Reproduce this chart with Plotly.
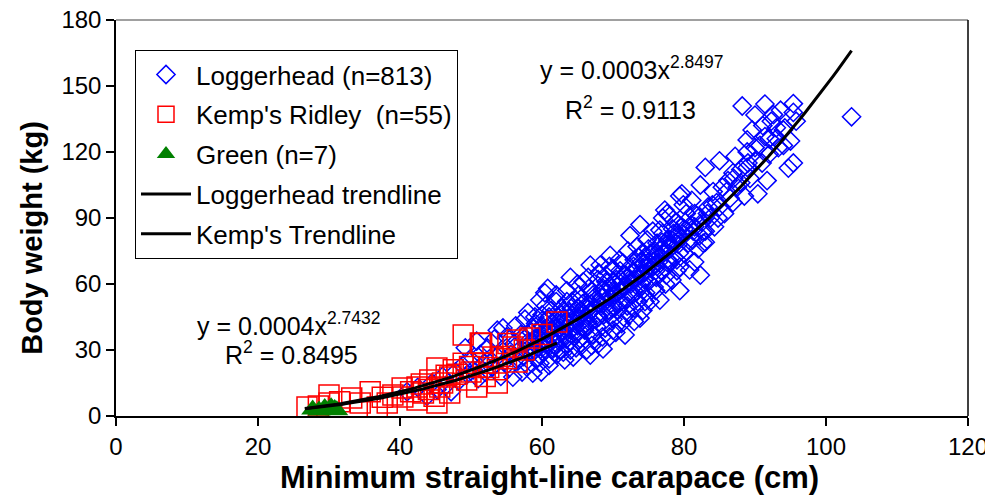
import numpy as np
import plotly.graph_objects as go

# ---------------- data ----------------
loggerhead_points = [
    (41.0, 11), (42.5, 13), (43.8, 9), (44.5, 15), (45.2, 12), (46.0, 18), (46.5, 14), (47.2, 11),
    (47.8, 20), (48.3, 16), (48.8, 23), (49.2, 31), (49.5, 19), (49.9, 26),
    (50.3, 21), (50.8, 34), (51.0, 17), (51.3, 28), (51.8, 24), (52.0, 20), (52.3, 31), (52.6, 26),
    (53.0, 22), (53.3, 35), (53.7, 39), (54.0, 28), (54.2, 18), (54.5, 40), (54.8, 25), (55.0, 31), (55.0, 36),
    (55.4, 22), (55.6, 28), (55.9, 17.7), (56.1, 33), (56.3, 41), (56.6, 25), (56.8, 30), (57.0, 37),
    (57.2, 20), (57.4, 27), (57.6, 44), (57.8, 33), (58.0, 47), (58.0, 23), (58.3, 29), (58.5, 38),
    (58.7, 19.5), (58.9, 35), (59.1, 42), (59.3, 26), (59.5, 31), (59.7, 52.7), (59.7, 24), (59.9, 20),
    (60.0, 37), (60.0, 46),
    (60.1, 43.6), (60.2, 29), (60.4, 56), (60.5, 33), (60.7, 40), (60.8, 58), (61.0, 26), (61.1, 36),
    (61.3, 48), (61.5, 31), (61.6, 42), (61.8, 38), (62.0, 52), (62.1, 28), (62.3, 45), (62.4, 34),
    (62.6, 40), (62.8, 49), (63.0, 29), (63.0, 37), (63.2, 25.5), (63.3, 43), (63.5, 57), (63.6, 33),
    (63.8, 47), (64.0, 39), (64.0, 63), (64.2, 52), (64.4, 26.8), (64.5, 36), (64.6, 44), (64.8, 31),
    (65.0, 49), (65.0, 41),
    (65.2, 55), (65.4, 35), (65.6, 46), (65.8, 61), (66.0, 39), (66.1, 52), (66.3, 30), (66.5, 43),
    (66.6, 58), (66.8, 27.7), (66.8, 68.6), (67.0, 48), (67.1, 37), (67.2, 36.8), (67.4, 54), (67.6, 44),
    (67.7, 40.5), (67.9, 62), (68.0, 33), (68.2, 68.6), (68.3, 50), (68.5, 57), (68.6, 30.5), (68.7, 46),
    (68.9, 40), (69.0, 64), (69.2, 53), (69.3, 46.8), (69.5, 36), (69.6, 73), (69.7, 59), (69.9, 49),
    (70.0, 44), (70.0, 67),
    (70.2, 55), (70.4, 38), (70.5, 62), (70.7, 48), (70.9, 71), (71.0, 52), (71.2, 42), (71.4, 69.5),
    (71.5, 58), (71.7, 36.8), (71.8, 64), (72.0, 50), (72.1, 75), (72.3, 46), (72.4, 82), (72.5, 60),
    (72.7, 55), (72.9, 68), (73.0, 43), (73.2, 63), (73.4, 77), (73.5, 52), (73.7, 58), (73.8, 44.5),
    (73.8, 87), (74.0, 70), (74.1, 74), (74.2, 48), (74.4, 65), (74.6, 56), (74.8, 80), (75.0, 61), (75.0, 72),
    (75.2, 52), (75.4, 67), (75.6, 84), (75.8, 58.6), (75.9, 75), (76.1, 63), (76.2, 78.6), (76.4, 70),
    (76.6, 52.7), (76.6, 84.5), (76.8, 66), (77.0, 90), (77.1, 74), (77.3, 93.6), (77.4, 60), (77.6, 92),
    (77.7, 80), (77.9, 69), (78.0, 76), (78.0, 91), (78.3, 61.8), (78.4, 85), (78.6, 72), (78.8, 88),
    (79.0, 83), (79.0, 66), (79.2, 78), (79.4, 57), (79.4, 67.7), (79.4, 100), (79.7, 86), (79.7, 101),
    (79.9, 96), (80.0, 74),
    (80.3, 92), (80.6, 78.6), (80.8, 66.4), (81.1, 98), (81.3, 84), (81.5, 70), (81.5, 92), (81.8, 91),
    (82.0, 76), (82.3, 105), (82.3, 64), (82.5, 88), (82.7, 84), (82.7, 78.6), (83.0, 113), (83.0, 79),
    (83.0, 84), (83.4, 95), (83.7, 90), (84.1, 102), (84.3, 86), (84.6, 97), (85.0, 95), (85.0, 116),
    (85.4, 104), (85.7, 92), (86.2, 107), (86.5, 99), (86.9, 110.5), (86.9, 97), (87.2, 118), (87.5, 104),
    (88.0, 112), (88.2, 140.9), (88.5, 100), (88.9, 113), (88.9, 120), (88.9, 125.5), (89.3, 108),
    (89.6, 130), (90.0, 136.8), (90.0, 116),
    (90.4, 101), (90.7, 123), (91.1, 132), (91.4, 127), (91.4, 141.8), (91.7, 107), (92.0, 119),
    (92.3, 134), (92.6, 137), (93.0, 126), (93.3, 122), (93.6, 139), (94.0, 130), (94.2, 131),
    (94.7, 112.7), (95.0, 125), (95.4, 115), (95.4, 138), (95.4, 142), (95.8, 134),
    (103.6, 136),
    # dense core
    (58.2, 31), (58.6, 34), (59.0, 30), (59.4, 36), (59.8, 33), (60.3, 35), (60.6, 38), (60.9, 33),
    (61.2, 39), (61.6, 35), (61.9, 41), (62.2, 37), (62.5, 42), (62.9, 38), (63.2, 44), (63.5, 40),
    (63.9, 42), (64.3, 46), (64.7, 42), (65.1, 45), (65.5, 48), (65.9, 44), (66.2, 49), (66.6, 47),
    (66.9, 51), (67.3, 49), (67.7, 53), (68.1, 51), (68.4, 54), (68.8, 52), (69.1, 56), (69.5, 54),
    (69.8, 58), (70.3, 56), (70.6, 59), (71.0, 57), (71.3, 61), (71.6, 59), (72.0, 63), (72.4, 61),
    (72.8, 65), (73.1, 62), (73.5, 67), (73.9, 64), (74.3, 69), (74.7, 67), (75.1, 70), (75.5, 68),
    (75.9, 73), (76.3, 72), (76.7, 76), (77.1, 74), (77.5, 78), (77.9, 77), (78.3, 80), (78.7, 79),
    (79.1, 82), (79.6, 81), (80.0, 85), (80.5, 84), (81.0, 87), (81.5, 86), (82.0, 90),
    (60.0, 41), (61.0, 45), (62.0, 33), (63.0, 48), (64.0, 34), (65.0, 52), (66.0, 40), (67.0, 57),
    (68.0, 45), (69.0, 61), (70.0, 50), (71.0, 66), (72.0, 53), (73.0, 71), (74.0, 60), (75.0, 76),
    (76.0, 66), (77.0, 83), (78.0, 70),
    (57.5, 35), (58.8, 40), (59.6, 28), (60.8, 44), (61.4, 30), (62.7, 46), (63.4, 35), (64.1, 49),
    (64.9, 38), (65.7, 51), (66.4, 41), (67.2, 55), (67.8, 46), (68.6, 58), (69.4, 48), (70.1, 61),
    (70.8, 51), (71.5, 64), (72.2, 56), (72.9, 57), (73.6, 72), (74.4, 62), (75.3, 74), (76.0, 69),
    (76.9, 79), (77.6, 71), (78.5, 83), (79.3, 74), (80.2, 88), (81.2, 80), (82.2, 82), (83.3, 92),
    (84.0, 96), (84.8, 90), (86.0, 102), (87.0, 108), (88.0, 106), (89.0, 115), (90.0, 122), (91.0, 115),
    (92.0, 126), (93.0, 131), (94.0, 123), (59.0, 45), (60.5, 50), (62.0, 55), (63.5, 52), (65.0, 60),
    (66.5, 63), (68.0, 65), (69.5, 68), (61.0, 23), (62.5, 30), (64.0, 30), (65.5, 33), (67.0, 32),
    (68.5, 36), (70.0, 39), (71.5, 45), (73.0, 49), (74.5, 52), (76.0, 57), (77.5, 64), (79.0, 71),
]

kemps_points = [
    (26.9, 4.1), (30.0, 9.5), (30.0, 5.9), (33.2, 8.2), (35.8, 11), (34.4, 5.9), (38.2, 5.9), (36.8, 4.1),
    (40.3, 12.7), (40.4, 8.6), (42.4, 13.2), (42.4, 7.3), (43.3, 10.5), (45.2, 5.9), (44.2, 16.4),
    (45.2, 21.8), (45.6, 13.2), (47.0, 17.7), (47.0, 10.5), (48.9, 36.8), (48.9, 24), (49.4, 16.4),
    (51.3, 33.2), (51.7, 24), (50.8, 13.2), (53.1, 26.8), (53.7, 21), (53.7, 15), (55.9, 31.4),
    (56.5, 24.5), (58.3, 35.5), (56.5, 34.5), (47.5, 21), (62.1, 42.7), (55.2, 33), (51.5, 33),
    (41.5, 11), (44.0, 12), (46.0, 15), (48.0, 19), (50.0, 20), (52.5, 22), (54.5, 27), (57.5, 30),
    (39.0, 9.5), (43.0, 14.5), (46.5, 18.5), (49.8, 22.5), (52.0, 18), (55.0, 26), (31.5, 6.5),
    (37.5, 8.5), (44.8, 9.0), (60.0, 37), (28.5, 4.5),
]

green_points = [(27.7, 3.0), (28.6, 2.5), (29.4, 3.6), (30.0, 2.8), (30.3, 4.0), (30.8, 3.2), (31.1, 2.6)]

# trendline equations printed on the chart: y = a * x^b
loggerhead_fit = {"a": 0.0003, "b": 2.8497, "r2": 0.9113, "x_from": 26.6, "x_to": 103.6}
kemps_fit = {"a": 0.0004, "b": 2.7432, "r2": 0.8495, "x_from": 26.6, "x_to": 62.1}

x_ticks = [0, 20, 40, 60, 80, 100, 120]
y_ticks = [0, 30, 60, 90, 120, 150, 180]
x_title = "Minimum straight-line carapace (cm)"
y_title = "Body weight (kg)"

# ---------------- figure ----------------
FONT = "Liberation Sans, Arial, sans-serif"


def split(points):
    return [p[0] for p in points], [p[1] for p in points]


def curve(fit):
    xs = np.linspace(fit["x_from"], fit["x_to"], 120)
    return xs, fit["a"] * xs ** fit["b"]


lx, ly = split(loggerhead_points)
kx, ky = split(kemps_points)
gx, gy = split(green_points)
ltx, lty = curve(loggerhead_fit)
ktx, kty = curve(kemps_fit)

fig = go.Figure()
fig.add_trace(go.Scatter(
    x=lx, y=ly, mode="markers", name="Loggerhead (n=813)", legendgroup="a",
    marker=dict(symbol="diamond-open", size=14, color="#0000FF", line=dict(width=1.5, color="#0000FF")),
    cliponaxis=False))
fig.add_trace(go.Scatter(
    x=kx, y=ky, mode="markers", name="Kemp's Ridley&nbsp;&nbsp;(n=55)", legendgroup="b",
    marker=dict(symbol="square-open", size=20, color="#FF0000", line=dict(width=1.5, color="#FF0000")),
    cliponaxis=False))
fig.add_trace(go.Scatter(
    x=gx, y=gy, mode="markers", name="Green (n=7)", legendgroup="c",
    marker=dict(symbol="triangle-up", size=20, color="#008000", line=dict(width=0)),
    cliponaxis=False))
fig.add_trace(go.Scatter(
    x=ltx, y=lty, mode="lines", name="Loggerhead trendline", legendgroup="d",
    line=dict(color="black", width=3), cliponaxis=False))
fig.add_trace(go.Scatter(
    x=ktx, y=kty, mode="lines", name="Kemp's Trendline", legendgroup="e",
    line=dict(color="black", width=3), cliponaxis=False))

ann_font = dict(family=FONT, size=25, color="black")
fig.add_annotation(x=59.4, y=158, xref="x", yref="y", xanchor="left", yanchor="middle", showarrow=False,
                   text="y = %.4fx<sup>%.4f</sup>" % (loggerhead_fit["a"], loggerhead_fit["b"]), font=ann_font)
fig.add_annotation(x=63.0, y=140, xref="x", yref="y", xanchor="left", yanchor="middle", showarrow=False,
                   text="R<sup>2</sup> = %.4f" % loggerhead_fit["r2"], font=ann_font)
fig.add_annotation(x=11.1, y=42, xref="x", yref="y", xanchor="left", yanchor="middle", showarrow=False,
                   text="y = %.4fx<sup>%.4f</sup>" % (kemps_fit["a"], kemps_fit["b"]), font=ann_font)
fig.add_annotation(x=15.1, y=28.5, xref="x", yref="y", xanchor="left", yanchor="middle", showarrow=False,
                   text="R<sup>2</sup> = %.4f" % kemps_fit["r2"], font=ann_font)

# axis titles (placed as in the reference)
fig.add_annotation(x=0.5083, y=-0.155, xref="paper", yref="paper", xanchor="center", yanchor="middle",
                   showarrow=False, text="<b>%s</b>" % x_title,
                   font=dict(family=FONT, size=31, color="black"))
fig.add_annotation(x=-0.0986, y=0.45, xref="paper", yref="paper", xanchor="center", yanchor="middle",
                   showarrow=False, textangle=-90, text="<b>%s</b>" % y_title,
                   font=dict(family=FONT, size=29, color="black"))

# plot-area frame: grey top, black right
fig.add_shape(type="line", xref="paper", yref="paper", x0=0, x1=1, y0=1, y1=1,
              line=dict(color="#808080", width=1.5))
fig.add_shape(type="line", xref="paper", yref="paper", x0=1, x1=1, y0=0, y1=1,
              line=dict(color="black", width=1.5))

axis_common = dict(showgrid=False, zeroline=False, showline=True, linecolor="black", linewidth=1.5,
                   ticks="outside", ticklen=8, tickcolor="black", tickwidth=1.5,
                   ticklabeloverflow="allow",
                   tickfont=dict(family=FONT, size=24, color="black"))
fig.update_xaxes(range=[0, 120], tickvals=x_ticks, ticktext=[str(v) for v in x_ticks], **axis_common)
fig.update_yaxes(range=[0, 180], tickvals=y_ticks, ticktext=[str(v) for v in y_ticks], **axis_common)

# page body has an 8px margin, so the figure is 8px smaller and shifted
fig.update_layout(
    width=985, height=490,
    margin=dict(l=108, r=25, t=12, b=82, autoexpand=False),
    paper_bgcolor="white", plot_bgcolor="white",
    font=dict(family=FONT, color="black"),
    showlegend=True,
    legend=dict(x=0.0223, y=0.924, xanchor="left", yanchor="top",
                bgcolor="white", bordercolor="black", borderwidth=1,
                font=dict(family=FONT, size=26, color="black"),
                traceorder="grouped", tracegroupgap=3, itemwidth=50),
)

fig.write_html("out.html")
